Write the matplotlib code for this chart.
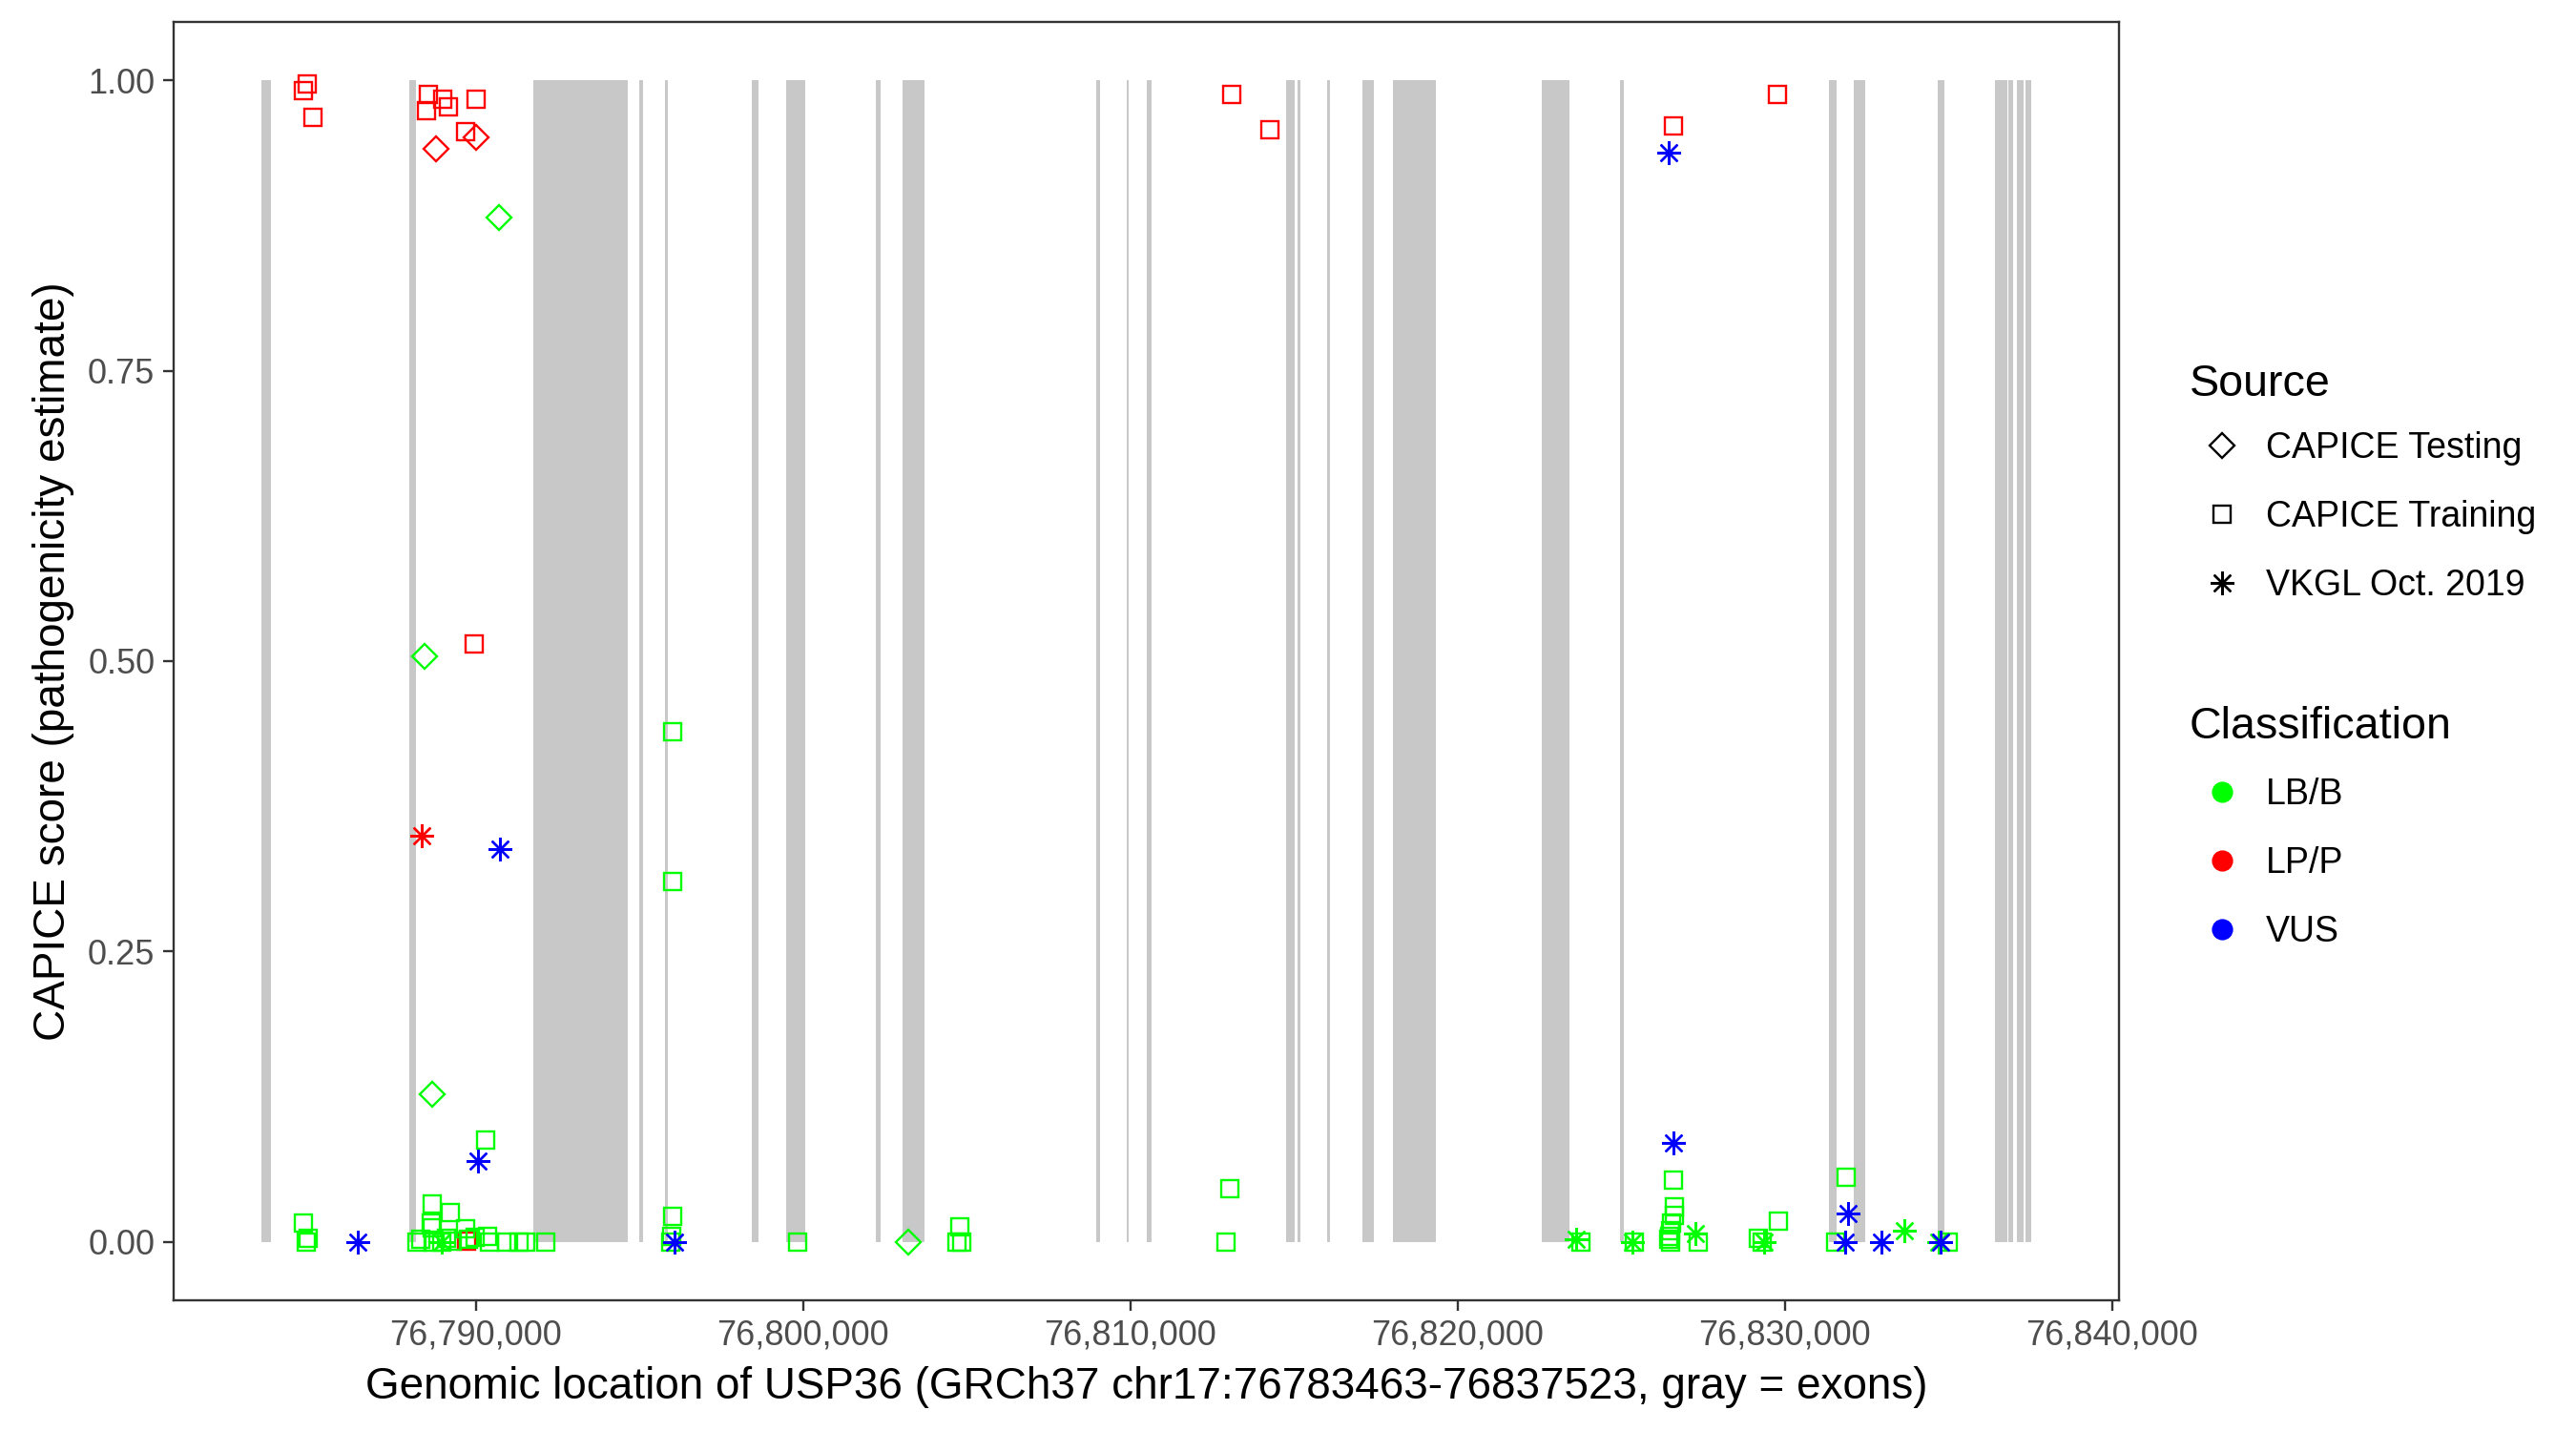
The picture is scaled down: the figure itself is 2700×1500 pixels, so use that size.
import matplotlib.pyplot as plt
from matplotlib.lines import Line2D
from matplotlib.ticker import FuncFormatter

plt.rcParams['font.family'] = ['Liberation Sans', 'DejaVu Sans']

# gene / exon layout (GRCh37 chr17)
gene_start = 76783463
gene_end = 76837523
exon_starts = [76783463, 76787970, 76791756, 76794988, 76795774, 76798424, 76799473,
               76802239, 76803055, 76808966, 76809883, 76810509, 76814761, 76815110,
               76816013, 76817090, 76818022, 76822565, 76824982, 76831359, 76832116,
               76834679, 76836426, 76836834, 76837096, 76837358]
exon_ends = [76783748, 76788174, 76794639, 76795105, 76795862, 76798628, 76800084,
             76802385, 76803724, 76809082, 76809956, 76810655, 76815023, 76815197,
             76816100, 76817440, 76819333, 76823438, 76825098, 76831592, 76832466,
             76834883, 76836805, 76836979, 76837300, 76837523]

# CAPICE Testing variants
testing_pos = [76788794, 76790000, 76790699, 76788451, 76788660, 76803220]
testing_score = [0.941, 0.951, 0.882, 0.504, 0.127, 0.0]
testing_class = ['LP/P', 'LP/P', 'LB/B', 'LB/B', 'LB/B', 'LB/B']

# CAPICE Training variants
training_pos = [76784846, 76784747, 76785020, 76788553, 76788503, 76788981, 76789173,
                76790000, 76789688, 76789950, 76813092, 76814257, 76826604, 76829787,
                76789726,
                76784747, 76784870, 76784820, 76788660, 76789223, 76790309,
                76788203, 76788320, 76788650, 76788670, 76788700, 76788960, 76789100,
                76789281, 76789700, 76789776, 76789980, 76790358, 76790416, 76790940,
                76791319, 76791523, 76792134,
                76796028, 76796028, 76796028, 76796000, 76795950, 76799822, 76804785,
                76804850, 76804700, 76813031, 76812926,
                76823767, 76825400, 76826600, 76826620, 76826620, 76826550, 76826500,
                76826480, 76826500, 76826450, 76827367, 76829200, 76829300, 76829796,
                76831875, 76831568, 76835008]
training_score = [0.997, 0.991, 0.968, 0.988, 0.974, 0.984, 0.977,
                  0.984, 0.956, 0.515, 0.988, 0.957, 0.961, 0.988,
                  0.001,
                  0.016, 0.003, 0.0, 0.033, 0.025, 0.088,
                  0.0, 0.002, 0.016, 0.012, 0.0, 0.0, 0.003,
                  0.001, 0.011, 0.002, 0.004, 0.005, 0.0, 0.0,
                  0.0, 0.0, 0.0,
                  0.439, 0.310, 0.022, 0.005, 0.0, 0.0, 0.013,
                  0.0, 0.0, 0.046, 0.0,
                  0.0, 0.0, 0.053, 0.030, 0.023, 0.016, 0.010,
                  0.005, 0.0, 0.002, 0.0, 0.003, 0.0, 0.018,
                  0.056, 0.0, 0.0]
training_class = ['LP/P'] * 15 + ['LB/B'] * 51

# VKGL Oct. 2019 variants
vkgl_pos = [76788350,
            76786407, 76790746, 76790067, 76796086, 76826467, 76826613, 76831951,
            76831850, 76832969, 76834766,
            76788960, 76823622, 76825351, 76827266, 76829380, 76833650, 76834700]
vkgl_score = [0.35,
              0.0, 0.338, 0.0695, 0.0, 0.938, 0.0855, 0.0245,
              0.0, 0.0, 0.0,
              0.0, 0.002, 0.0, 0.007, 0.0, 0.0095, 0.0]
vkgl_class = ['LP/P'] + ['VUS'] * 10 + ['LB/B'] * 7

class_names = ['LB/B', 'LP/P', 'VUS']
class_colors = {'LB/B': '#00FF00', 'LP/P': '#FF0000', 'VUS': '#0000FF'}
draw_order = ['LP/P', 'LB/B', 'VUS']

source_names = ['CAPICE Testing', 'CAPICE Training', 'VKGL Oct. 2019']
source_markers = {'CAPICE Testing': ('D', 6.5), 'CAPICE Training': ('s', 6.5),
                  'VKGL Oct. 2019': ((8, 2, 0), 9.0)}

fig, ax = plt.subplots(figsize=(13.5, 7.5), dpi=200)
fig.subplots_adjust(left=0.0673, right=0.8227, top=0.9845, bottom=0.0915)

# exons as gray bars
ax.bar(exon_starts, [1] * len(exon_starts),
       width=[e - s for s, e in zip(exon_starts, exon_ends)],
       bottom=0, align='edge', color='#C8C8C8', linewidth=0, zorder=1)

groups = [('CAPICE Testing', testing_pos, testing_score, testing_class),
          ('CAPICE Training', training_pos, training_score, training_class),
          ('VKGL Oct. 2019', vkgl_pos, vkgl_score, vkgl_class)]

for cls in draw_order:
    for src, p, s, c in groups:
        xs = [a for a, k in zip(p, c) if k == cls]
        ys = [b for b, k in zip(s, c) if k == cls]
        if not xs:
            continue
        m, ms = source_markers[src]
        ax.plot(xs, ys, linestyle='none', marker=m, markersize=ms,
                markerfacecolor='none', markeredgecolor=class_colors[cls],
                markeredgewidth=0.85, zorder=3)

span = gene_end - gene_start
ax.set_xlim(gene_start - 0.05 * span, gene_end + 0.05 * span)
ax.set_ylim(-0.05, 1.05)
ax.set_xticks([76790000, 76800000, 76810000, 76820000, 76830000, 76840000])
ax.xaxis.set_major_formatter(FuncFormatter(lambda v, p: f'{int(v):,}'))
ax.set_yticks([0, 0.25, 0.5, 0.75, 1.0])
ax.yaxis.set_major_formatter(FuncFormatter(lambda v, p: f'{v:.2f}'))

for sp in ax.spines.values():
    sp.set_color('#333333')
    sp.set_linewidth(0.85)
ax.tick_params(colors='#333333', labelcolor='#4D4D4D', labelsize=13,
               length=4, width=0.85, pad=3)

ax.set_xlabel('Genomic location of USP36 (GRCh37 chr17:76783463-76837523, gray = exons)',
              fontsize=16.5, labelpad=5.5)
ax.set_ylabel('CAPICE score (pathogenicity estimate)', fontsize=16.5, labelpad=5)

# legends
src_handles = [Line2D([], [], linestyle='none', marker=source_markers[s][0],
                      markersize=source_markers[s][1], markerfacecolor='none',
                      markeredgecolor='black', markeredgewidth=0.85)
               for s in source_names]
cls_handles = [Line2D([], [], linestyle='none', marker='o', markersize=7,
                      markerfacecolor=class_colors[c], markeredgecolor=class_colors[c])
               for c in class_names]

leg_kw = dict(loc='upper left', frameon=False, fontsize=13.5, title_fontsize=16.8,
              alignment='left', handlelength=1.8, handletextpad=0.33,
              labelspacing=0.96, borderpad=0, borderaxespad=0)
leg1 = fig.legend(src_handles, source_names, title='Source',
                  bbox_to_anchor=(0.85, 0.746), **leg_kw)
leg2 = fig.legend(cls_handles, class_names, title='Classification',
                  bbox_to_anchor=(0.85, 0.5065), **leg_kw)
# tighter gap between legend title and its keys
for leg in (leg1, leg2):
    leg._legend_box.sep = 9.9
leg2._legend_box.sep = 11.2

fig.savefig('out.png', dpi=200)
